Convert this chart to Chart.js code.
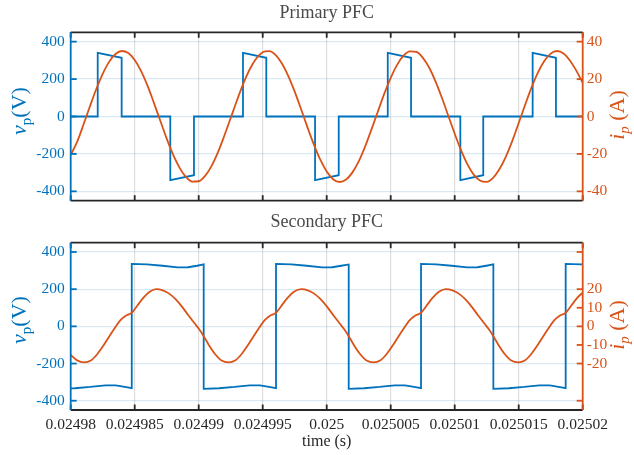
<!DOCTYPE html>
<html>
<head>
<meta charset="utf-8">
<script src="https://cdn.jsdelivr.net/npm/chart.js@4.4.1/dist/chart.umd.min.js"></script>
<style>
  body { margin: 0; background: #fff; }
  canvas { position: absolute; left: 0; }
  #priChart { top: 0; }
  #secChart { top: 210px; }
</style>
</head>
<body>
<canvas id="priChart" width="634" height="210"></canvas>
<canvas id="secChart" width="634" height="245"></canvas>
<script>
// time axis, times below are in microseconds after T0
const T0 = 0.02498;
const xTicks = [0.02498, 0.024985, 0.02499, 0.024995, 0.025, 0.025005, 0.02501, 0.025015, 0.02502];
const xTickLabels = ['0.02498', '0.024985', '0.02499', '0.024995', '0.025', '0.025005', '0.02501', '0.025015', '0.02502'];
const leftTicks = [-400, -200, 0, 200, 400];
const priRightTicks = [-40, -20, 0, 20, 40];
const priRightLabels = ['-40', '-20', '0', '20', '40'];
const secRightTicks = [-40, -20, -10, 0, 10, 20, 40];
const secRightLabels = ['', '-20', '-10', '0', '10', '20', ''];

// Primary PFC
const priVoltageTime = [0, 2.11, 2.11, 3.98, 3.98, 7.78, 7.78, 9.63, 9.63, 13.46, 13.46, 15.28, 15.28,
  19.09, 19.09, 20.94, 20.94, 24.77, 24.77, 26.59, 26.59, 30.44, 30.44, 32.23, 32.23, 36.09, 36.09, 37.91, 37.91, 40];
const priVoltage = [0, 0, 340, 314, 0, 0, -340, -314, 0, 0, 340, 314, 0, 0, -340, -314, 0, 0, 340, 314, 0,
  0, -340, -314, 0, 0, 340, 314, 0, 0];

const priCurrentTime = [0, 0.5, 1, 1.5, 2, 2.5, 3, 3.5, 4, 4.5, 5, 5.5, 6, 6.5, 7, 7.5, 8, 8.5, 9, 9.5,
  10, 10.5, 11, 11.5, 12, 12.5, 13, 13.5, 14, 14.5, 15, 15.5, 16, 16.5, 17, 17.5, 18, 18.5, 19, 19.5,
  20, 20.5, 21, 21.5, 22, 22.5, 23, 23.5, 24, 24.5, 25, 25.5, 26, 26.5, 27, 27.5, 28, 28.5, 29, 29.5,
  30, 30.5, 31, 31.5, 32, 32.5, 33, 33.5, 34, 34.5, 35, 35.5, 36, 36.5, 37, 37.5, 38, 38.5, 39, 39.5, 40];
const priCurrent = [-20.5, -13.6, -4.3, 5.4, 14.7, 22.8, 29.2, 33.4, 35.0, 33.9, 30.2, 24.3, 16.5, 7.3, -2.3,
  -11.8, -20.4, -27.3, -32.3, -34.8, -34.6, -31.7, -26.5, -19.2, -10.3, -0.8, 8.8, 17.8, 25.4, 31.0,
  34.3, 34.9, 32.9, 28.3, 21.6, 13.3, 3.9, -5.8, -15.0, -23.1, -29.4, -33.5, -35.0, -33.8, -30.0,
  -24.0, -16.1, -6.9, 2.7, 12.2, 20.7, 27.6, 32.5, 34.8, 34.5, 31.5, 26.2, 18.8, 10.0, 0.4,
  -9.2, -18.1, -25.6, -31.2, -34.3, -34.9, -32.8, -28.1, -21.4, -13.0, -3.5, 6.2, 15.4, 23.4, 29.6,
  33.6, 35.0, 33.7, 29.9, 24.5, 18.0];

// Secondary PFC
const secVoltageTime = [0, 0.32, 1.52, 2.72, 3.52, 4.22, 4.77, 4.77, 5.97, 7.17, 8.37, 9.17, 9.87, 10.39,
  10.39, 11.59, 12.79, 13.99, 14.79, 15.49, 16.04, 16.04, 17.24, 18.44, 19.64, 20.44, 21.14, 21.72,
  21.72, 22.92, 24.12, 25.32, 26.12, 26.82, 27.37, 27.37, 28.57, 29.77, 30.97, 31.77, 32.47, 33.02,
  33.02, 34.22, 35.42, 36.62, 37.42, 38.12, 38.67, 38.67, 39.87, 40];
const secVoltage = [-334, -333, -326, -317, -318, -326, -333, 336, 333, 326, 317, 318, 326, 333,
  -336, -333, -326, -317, -318, -326, -333, 336, 333, 326, 317, 318, 326, 333,
  -336, -333, -326, -317, -318, -326, -333, 336, 333, 326, 317, 318, 326, 333,
  -336, -333, -326, -317, -318, -326, -333, 336, 333, 333];

const secCurrentTime = [0, 0.5, 1.07, 1.57, 2.07, 2.57, 3.07, 3.47, 3.87, 4.27, 4.77, 5.17, 5.67, 6.17, 6.69,
  7.19, 7.69, 8.19, 8.69, 9.19, 9.69, 10.04, 10.39, 10.79, 11.29, 11.79, 12.34,
  12.84, 13.34, 13.84, 14.34, 14.74, 15.14, 15.54, 16.04, 16.44, 16.94, 17.44, 18.02,
  18.52, 19.02, 19.52, 20.02, 20.52, 21.02, 21.37, 21.72, 22.12, 22.62, 23.12, 23.67,
  24.17, 24.67, 25.17, 25.67, 26.07, 26.47, 26.87, 27.37, 27.77, 28.27, 28.77, 29.32,
  29.82, 30.32, 30.82, 31.32, 31.82, 32.32, 32.67, 33.02, 33.42, 33.92, 34.42, 34.97,
  35.47, 35.97, 36.47, 36.97, 37.37, 37.77, 38.17, 38.67, 39.07, 39.57, 40];
const secCurrent = [-15.4, -18.3, -19.4, -18.4, -15.0, -10.2, -4.8, -0.6, 3.2, 5.6, 7.3, 10.8, 15.3, 18.6, 20.0,
  19.4, 17.6, 14.6, 10.6, 6.0, 1.5, -1.6, -5.3, -10.0, -15.0, -18.4, -19.4,
  -18.4, -15.0, -10.2, -4.8, -0.6, 3.2, 5.6, 7.3, 10.8, 15.3, 18.6, 20.0,
  19.4, 17.6, 14.6, 10.6, 6.0, 1.5, -1.6, -5.3, -10.0, -15.0, -18.4, -19.4,
  -18.4, -15.0, -10.2, -4.8, -0.6, 3.2, 5.6, 7.3, 10.8, 15.3, 18.6, 20.0,
  19.4, 17.6, 14.6, 10.6, 6.0, 1.5, -1.6, -5.3, -10.0, -15.0, -18.4, -19.4,
  -18.4, -15.0, -10.2, -4.8, -0.6, 3.2, 5.6, 7.3, 10.8, 15.3, 18.2];

const BLUE = '#0072BD';
const ORANGE = '#D95319';
const DARK = '#262626';
const SERIF = '"Liberation Serif", "Times New Roman", serif';

function toPoints(times, values) {
  return times.map((t, i) => ({ x: T0 + t * 1e-6, y: values[i] }));
}

// no extra room for half labels, the plot area is set by the fixed axis sizes
function noPad(s) {
  s.paddingTop = 0;
  s.paddingBottom = 0;
  s.paddingLeft = 0;
  s.paddingRight = 0;
}

// box, inner tick marks and coloured y axes, drawn over the lines like matlab does
const framePlugin = {
  id: 'frame',
  afterDatasetsDraw(chart) {
    const { ctx, chartArea: a, scales } = chart;
    const line = (x1, y1, x2, y2) => { ctx.beginPath(); ctx.moveTo(x1, y1); ctx.lineTo(x2, y2); ctx.stroke(); };
    ctx.save();
    ctx.lineWidth = 1.8;
    ctx.strokeStyle = DARK;
    xTicks.forEach(v => {
      const x = scales.x.getPixelForValue(v);
      line(x, a.bottom, x, a.bottom - 5.5);
      line(x, a.top, x, a.top + 5.5);
    });
    line(a.left, a.top, a.right, a.top);
    line(a.left, a.bottom, a.right, a.bottom);
    ctx.strokeStyle = BLUE;
    scales.y.ticks.forEach(t => {
      const y = scales.y.getPixelForValue(t.value);
      line(a.left, y, a.left + 6, y);
    });
    line(a.left, a.top, a.left, a.bottom);
    ctx.strokeStyle = ORANGE;
    scales.y2.ticks.forEach(t => {
      const y = scales.y2.getPixelForValue(t.value);
      line(a.right, y, a.right - 6, y);
    });
    line(a.right, a.top, a.right, a.bottom);
    ctx.restore();
  }
};

// rotated y labels with italic letters and subscripts
function drawRich(ctx, parts, cx, cy, color) {
  ctx.save();
  ctx.translate(cx, cy);
  ctx.rotate(-Math.PI / 2);
  let total = 0;
  parts.forEach(p => {
    ctx.font = (p.italic ? 'italic ' : '') + p.size + 'px ' + SERIF;
    p.w = ctx.measureText(p.text).width;
    total += p.w;
  });
  let x = -total / 2;
  ctx.fillStyle = color;
  ctx.textBaseline = 'alphabetic';
  parts.forEach(p => {
    ctx.font = (p.italic ? 'italic ' : '') + p.size + 'px ' + SERIF;
    ctx.fillText(p.text, x, 5 + (p.dy || 0));
    x += p.w;
  });
  ctx.restore();
}

const axisLabelPlugin = {
  id: 'axisLabels',
  afterDraw(chart, args, opts) {
    const ctx = chart.ctx;
    drawRich(ctx, [
      { text: 'v', italic: true, size: 22 },
      { text: 'p', size: 15, dy: 5 },
      { text: '(V)', size: 22 }
    ], 21, opts.leftY, BLUE);
    drawRich(ctx, [
      { text: 'i', italic: true, size: 22 },
      { text: 'p', italic: true, size: 15, dy: 5 },
      { text: ' (A)', size: 22 }
    ], 619, opts.rightY, ORANGE);
  }
};

function makeChart(id, title, titlePad, voltage, current, rightTicks, rightLabels, showX, xHeight, labelY) {
  return new Chart(document.getElementById(id), {
    type: 'line',
    data: {
      datasets: [
        {
          data: current,
          yAxisID: 'y2',
          borderColor: ORANGE,
          borderWidth: 1.8,
          pointRadius: 0,
          cubicInterpolationMode: 'monotone'
        },
        {
          data: voltage,
          yAxisID: 'y',
          borderColor: BLUE,
          borderWidth: 1.8,
          pointRadius: 0,
          tension: 0
        }
      ]
    },
    options: {
      responsive: false,
      animation: false,
      layout: { padding: 0 },
      plugins: {
        legend: { display: false },
        tooltip: { enabled: false },
        title: {
          display: true,
          text: title,
          fullSize: false,
          color: '#4a4a4a',
          font: { family: SERIF, size: 18, weight: 'normal' },
          padding: titlePad
        },
        axisLabels: labelY
      },
      scales: {
        x: {
          type: 'linear',
          min: T0,
          max: 0.02502,
          afterBuildTicks: s => { s.ticks = xTicks.map(v => ({ value: v })); },
          afterFit: s => { s.height = xHeight; noPad(s); },
          ticks: {
            display: showX,
            autoSkip: false,
            maxRotation: 0,
            minRotation: 0,
            padding: 6,
            color: DARK,
            font: { family: SERIF, size: 15.5 },
            callback: (v, i) => xTickLabels[i]
          },
          grid: { color: 'rgba(38,38,38,0.15)', lineWidth: 1.2, drawTicks: false },
          border: { display: false },
          title: {
            display: showX,
            text: 'time (s)',
            color: DARK,
            font: { family: SERIF, size: 16 },
            padding: { top: 0, bottom: 4 }
          }
        },
        y: {
          position: 'left',
          min: -450,
          max: 450,
          afterBuildTicks: s => { s.ticks = leftTicks.map(v => ({ value: v })); },
          afterFit: s => { s.width = 70.7; noPad(s); },
          ticks: {
            autoSkip: false,
            padding: 6,
            color: BLUE,
            font: { family: SERIF, size: 15.5 },
            callback: v => String(v)
          },
          grid: { color: 'rgba(0,114,189,0.15)', lineWidth: 1.2, drawTicks: false },
          border: { display: false }
        },
        y2: {
          position: 'right',
          min: -45,
          max: 45,
          afterBuildTicks: s => { s.ticks = rightTicks.map(v => ({ value: v })); },
          afterFit: s => { s.width = 51.3; noPad(s); },
          ticks: {
            autoSkip: false,
            padding: 4,
            color: ORANGE,
            font: { family: SERIF, size: 15.5 },
            callback: v => rightLabels[rightTicks.indexOf(v)]
          },
          grid: { display: false, drawTicks: false },
          border: { display: false }
        }
      }
    },
    plugins: [framePlugin, axisLabelPlugin]
  });
}

makeChart('priChart', 'Primary PFC', { top: 2, bottom: 8.7 },
  toPoints(priVoltageTime, priVoltage), toPoints(priCurrentTime, priCurrent),
  priRightTicks, priRightLabels, false, 9.3, { leftY: 111, rightY: 115 });

makeChart('secChart', 'Secondary PFC', { top: 1.4, bottom: 9.7 },
  toPoints(secVoltageTime, secVoltage), toPoints(secCurrentTime, secCurrent),
  secRightTicks, secRightLabels, true, 45, { leftY: 110, rightY: 115 });
</script>
</body>
</html>
